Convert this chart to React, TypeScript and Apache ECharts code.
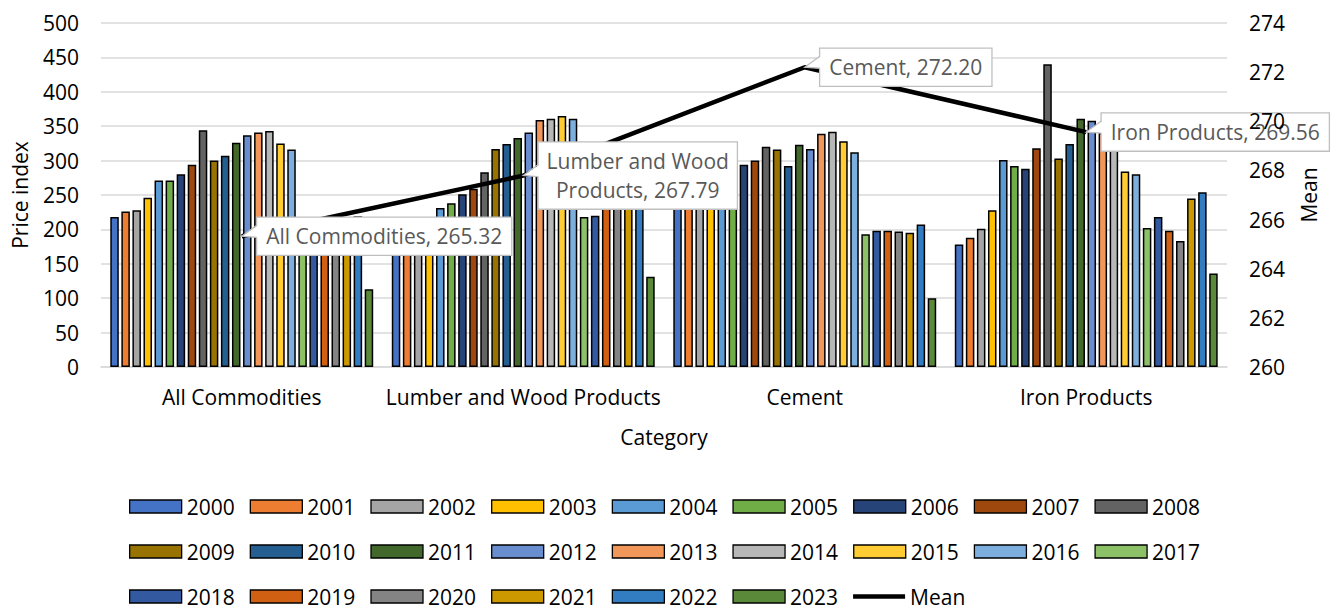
import React, { useEffect, useRef } from "react";
import * as echarts from "echarts";

const FONT = '"Open Sans", "Noto Sans", sans-serif';

const categories = ["All Commodities", "Lumber and Wood Products", "Cement", "Iron Products"];
const years = [
  "2000", "2001", "2002", "2003", "2004", "2005", "2006", "2007", "2008", "2009", "2010", "2011",
  "2012", "2013", "2014", "2015", "2016", "2017", "2018", "2019", "2020", "2021", "2022", "2023",
];

// price index per year, one array per category
const allCommodities = [218, 226, 228, 246, 271, 271, 280, 294, 344, 300, 307, 326, 337, 341, 343, 325, 316, 208, 212, 214, 210, 216, 219, 113];
const lumberWood = [205, 208, 212, 215, 231, 238, 251, 259, 283, 317, 324, 333, 341, 359, 361, 365, 361, 218, 220, 240, 245, 265, 248, 131];
const cement = [280, 285, 290, 295, 305, 308, 294, 300, 320, 316, 292, 323, 317, 339, 342, 328, 312, 193, 198, 198, 197, 195, 207, 100];
const ironProducts = [178, 188, 201, 228, 301, 292, 288, 318, 440, 303, 324, 361, 358, 340, 350, 284, 280, 202, 218, 198, 183, 245, 254, 136];

const meanValues = [265.32, 267.79, 272.2, 269.56];

const yearColors = [
  "#4472C4", "#ED7D31", "#A5A5A5", "#FFC000", "#5B9BD5", "#70AD47", "#264478", "#9E480E",
  "#636363", "#997300", "#255E91", "#43682B", "#698ED0", "#F1975A", "#B7B7B7", "#FFCD33",
  "#7CAFDD", "#8CC168", "#335AA1", "#D26012", "#848484", "#CC9A00", "#327DC2", "#5A8A39",
];

const byCategory = [allCommodities, lumberWood, cement, ironProducts];
const LABEL_DIST = 15;

const App: React.FC = () => {
  const ref = useRef<HTMLDivElement>(null);

  useEffect(() => {
    document.body.style.margin = "0";
    if (!ref.current) return;
    const chart = echarts.init(ref.current, undefined, { renderer: "svg" });

    const axisText = { fontSize: 21, color: "#000", fontFamily: FONT };

    const barSeries = years.map((y, i) => ({
      name: y,
      type: "bar",
      yAxisIndex: 0,
      data: byCategory.map((arr) => arr[i]),
      barGap: "30%",
      barCategoryGap: "6.6%",
      itemStyle: { color: yearColors[i], borderColor: "#000", borderWidth: 1.5 },
    }));

    const legendRow = (names: any[], top: number) => ({
      data: names,
      left: 129,
      top,
      padding: 0,
      orient: "horizontal",
      icon: "rect",
      itemWidth: 52,
      itemHeight: 13,
      itemGap: 15,
      selectedMode: false,
      itemStyle: { borderColor: "#000", borderWidth: 1.3 },
      textStyle: { fontSize: 21, color: "#000", fontFamily: FONT, width: 48 },
    });

    const option = {
      animation: false,
      textStyle: { fontFamily: FONT },
      grid: { left: 101, right: 109, top: 23, bottom: 243 },
      legend: [
        legendRow(years.slice(0, 9), 496),
        legendRow(years.slice(9, 18), 541),
        legendRow([...years.slice(18), { name: "Mean", icon: "path://M0 0H52V4.5H0Z", itemStyle: { borderWidth: 0 } }], 586),
      ],
      xAxis: {
        type: "category",
        data: categories,
        axisLine: { lineStyle: { color: "#d9d9d9", width: 1.5 } },
        axisTick: { show: false },
        axisLabel: { ...axisText, margin: 19, interval: 0 },
        name: "Category",
        nameLocation: "middle",
        nameGap: 59,
        nameTextStyle: axisText,
      },
      yAxis: [
        {
          type: "value",
          min: 0,
          max: 500,
          interval: 50,
          name: "Price index",
          nameLocation: "middle",
          nameRotate: 90,
          nameGap: 71,
          nameTextStyle: axisText,
          axisLine: { show: false },
          axisTick: { show: false },
          axisLabel: { ...axisText, margin: 22 },
          splitLine: { lineStyle: { color: "#d9d9d9", width: 1.5 } },
        },
        {
          type: "value",
          min: 260,
          max: 274,
          interval: 2,
          position: "right",
          z: 20,
          name: "Mean",
          nameLocation: "middle",
          nameRotate: 90,
          nameGap: 71,
          nameTextStyle: axisText,
          axisLine: { show: false },
          axisTick: { show: false },
          axisLabel: { ...axisText, margin: 22 },
          splitLine: { show: false },
        },
      ],
      series: [
        ...barSeries,
        {
          name: "Mean",
          type: "line",
          yAxisIndex: 1,
          data: meanValues,
          symbol: "circle",
          symbolSize: 1,
          itemStyle: { color: "#000" },
          lineStyle: { color: "#000", width: 4.5 },
          z: 5,
          label: {
            show: true,
            position: "right",
            distance: LABEL_DIST,
            fontSize: 21,
            fontFamily: FONT,
            color: "#595959",
            lineHeight: 29,
            backgroundColor: "#fff",
            borderColor: "#bfbfbf",
            borderWidth: 1.3,
            padding: [4, 9],
            formatter: (p: any) => {
              const name = categories[p.dataIndex];
              const txt = `${name}, ${Number(p.value).toFixed(2)}`;
              if (txt.length <= 26) return txt;
              const words = name.split(" ");
              const last = words.pop();
              return `{c|${words.join(" ")}}\n{c|${last}, ${Number(p.value).toFixed(2)}}`;
            },
            rich: {
              c: { width: 180, align: "center", fontSize: 21, fontFamily: FONT, color: "#595959", lineHeight: 29 },
            },
          },
        },
      ],
    };

    chart.setOption(option);

    // callout pointers from each label box to its point
    const lineIdx = barSeries.length;
    const graphics: any[] = [];
    meanValues.forEach((v, i) => {
      const [px, py] = chart.convertToPixel({ seriesIndex: lineIdx }, [i, v]) as number[];
      const bx = px + LABEL_DIST;
      graphics.push({
        type: "polygon",
        z: 100,
        shape: { points: [[px, py], [bx + 1.5, py - 11], [bx + 1.5, py + 1]] },
        style: { fill: "#fff" },
      });
      graphics.push({
        type: "polyline",
        z: 101,
        shape: { points: [[bx, py - 11], [px, py], [bx, py + 1]] },
        style: { stroke: "#bfbfbf", lineWidth: 1.3, fill: null },
      });
    });
    chart.setOption({ graphic: graphics });

    return () => {
      chart.dispose();
    };
  }, []);

  return <div ref={ref} style={{ width: 1336, height: 610 }} />;
};

export default App;
